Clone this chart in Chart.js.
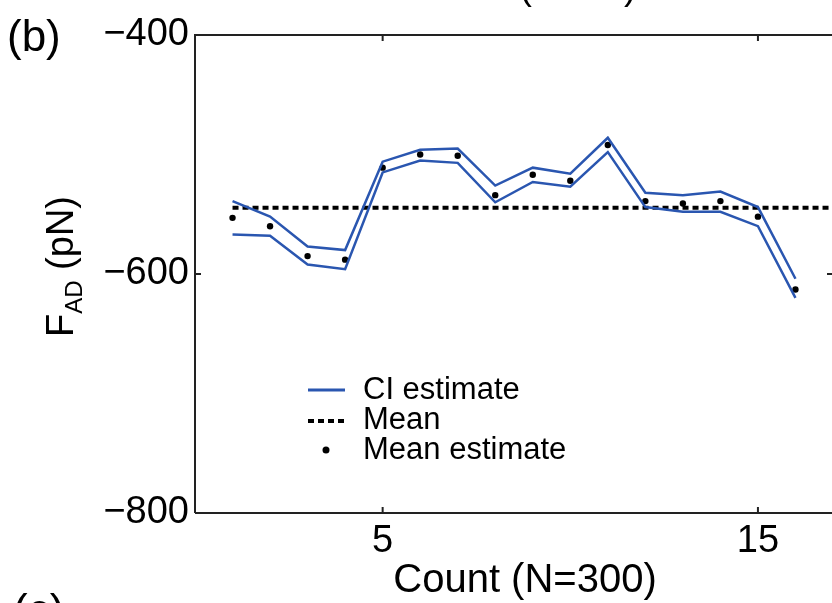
<!DOCTYPE html>
<html>
<head>
<meta charset="utf-8">
<script src="https://cdn.jsdelivr.net/npm/chart.js@4.4.1/dist/chart.umd.min.js"></script>
<style>
html,body{margin:0;padding:0;background:#fff;overflow:hidden;}
#wrap{width:840px;height:603px;position:relative;}
</style>
</head>
<body>
<div id="wrap"><canvas id="c" width="840" height="603"></canvas></div>
<script>
// ---- data ----
const counts   = [1,2,3,4,5,6,7,8,9,10,11,12,13,14,15,16];
const ciUpper  = [-539,-552,-577,-580,-506,-496,-495,-526,-511,-516,-486,-532,-534,-531,-544,-604];
const ciLower  = [-567,-568,-592,-596,-515,-505,-507,-540,-523,-527,-498,-544,-548,-548,-560,-620];
const meanEst  = [-553,-560,-585,-588,-511,-500,-501,-534,-517,-522,-492,-539,-541,-539,-552,-613];
const meanValue = -544.5;
const meanSpan  = [1,17];
const xTicks = [5,15];
const yTicks = [-800,-600,-400];

const BLUE = '#2a56b0';
const FONT = '"Liberation Sans", Arial, sans-serif';

const toPts = (xs, ys) => xs.map((x,i)=>({x:x,y:ys[i]}));

const framePlugin = {
  id:'frame',
  afterDraw(chart){
    const {ctx, chartArea:a, scales:{x,y}} = chart;
    ctx.save();
    ctx.strokeStyle='#222';
    ctx.lineWidth=2;
    ctx.beginPath();
    ctx.moveTo(a.left,a.bottom);ctx.lineTo(a.left,a.top);ctx.lineTo(a.right,a.top);ctx.lineTo(a.right,a.bottom);ctx.lineTo(a.left,a.bottom);
    ctx.stroke();
    const tl=6;
    ctx.beginPath();
    xTicks.forEach(v=>{const px=x.getPixelForValue(v);ctx.moveTo(px,a.bottom);ctx.lineTo(px,a.bottom-tl);ctx.moveTo(px,a.top);ctx.lineTo(px,a.top+tl);});
    yTicks.forEach(v=>{const py=y.getPixelForValue(v);ctx.moveTo(a.left,py);ctx.lineTo(a.left+tl,py);ctx.moveTo(a.right,py);ctx.lineTo(a.right-tl,py);});
    ctx.stroke();

    ctx.fillStyle='#000';
    // panel labels
    ctx.textBaseline='alphabetic';
    ctx.textAlign='left';
    ctx.font='44px '+FONT;
    ctx.fillText('(b)',7,51);
    ctx.fillText('(c)',13,625);
    // partial title of panel above
    ctx.textAlign='center';
    ctx.font='38px '+FONT;
    ctx.fillText('Count (N=30)',522,-1);
    // x axis title
    ctx.font='40px '+FONT;
    ctx.fillText('Count (N=300)',525,592);

    // y axis title
    ctx.save();
    ctx.translate(73,337);
    ctx.rotate(-Math.PI/2);
    ctx.textAlign='left';
    ctx.font='38px '+FONT;
    ctx.fillText('F',0,0);
    let w=ctx.measureText('F').width;
    ctx.font='24px '+FONT;
    ctx.fillText('AD',w,9);
    w+=ctx.measureText('AD').width;
    ctx.font='38px '+FONT;
    ctx.fillText(' (pN)',w,0);
    ctx.restore();

    // legend
    ctx.textAlign='left';
    ctx.textBaseline='middle';
    ctx.font='31px '+FONT;
    ctx.strokeStyle=BLUE;ctx.lineWidth=3;
    ctx.beginPath();ctx.moveTo(308,390);ctx.lineTo(345,390);ctx.stroke();
    ctx.fillText('CI estimate',363,390);
    ctx.strokeStyle='#000';ctx.lineWidth=4;ctx.setLineDash([6,4]);
    ctx.beginPath();ctx.moveTo(308,421);ctx.lineTo(345,421);ctx.stroke();
    ctx.setLineDash([]);
    ctx.fillText('Mean',363,420);
    ctx.beginPath();ctx.arc(326,450,3.5,0,Math.PI*2);ctx.fill();
    ctx.fillText('Mean estimate',363,450);
    ctx.restore();
  }
};

new Chart(document.getElementById('c'),{
  type:'line',
  data:{
    datasets:[
      {label:'CI upper',data:toPts(counts,ciUpper),borderColor:BLUE,borderWidth:2.5,pointRadius:0,fill:false,tension:0},
      {label:'CI lower',data:toPts(counts,ciLower),borderColor:BLUE,borderWidth:2.5,pointRadius:0,fill:false,tension:0},
      {label:'Mean',data:meanSpan.map(x=>({x:x,y:meanValue})),borderColor:'#000',borderWidth:4,borderDash:[6,4],pointRadius:0,fill:false},
      {label:'Mean estimate',data:toPts(counts,meanEst),showLine:false,pointRadius:3.2,pointBackgroundColor:'#000',pointBorderWidth:0}
    ]
  },
  options:{
    responsive:false,
    animation:false,
    layout:{padding:{left:0,right:7,top:35,bottom:0}},
    plugins:{legend:{display:false},tooltip:{enabled:false}},
    scales:{
      x:{type:'linear',min:0,max:17,
        afterBuildTicks:s=>{s.ticks=xTicks.map(v=>({value:v}));},
        afterFit:s=>{s.height=90;},
        grid:{display:false,drawTicks:false},
        border:{display:false},
        ticks:{font:{size:38,family:FONT},color:'#000',padding:6,maxRotation:0,autoSkip:false}
      },
      y:{type:'linear',min:-800,max:-400,
        afterBuildTicks:s=>{s.ticks=yTicks.map(v=>({value:v}));},
        afterFit:s=>{s.width=195;},
        grid:{display:false,drawTicks:false},
        border:{display:false},
        ticks:{font:{size:38,family:FONT},color:'#000',padding:6,callback:v=>'\u2212'+Math.abs(v)}
      }
    }
  },
  plugins:[framePlugin]
});
</script>
</body>
</html>
